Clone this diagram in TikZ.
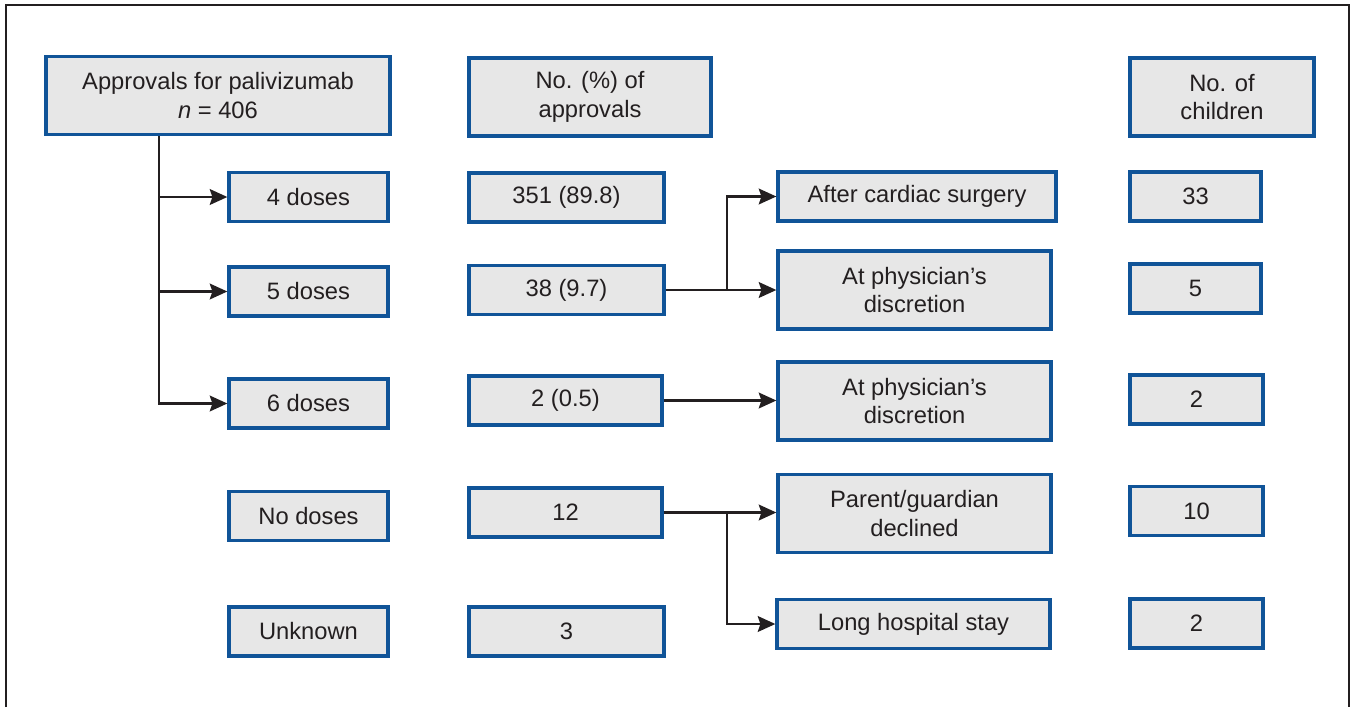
\documentclass[tikz,border=0pt]{standalone}
\usepackage{fontspec}
\setmainfont{Liberation Sans}
\usepackage{tikz}
\usepackage{xcolor}
\usetikzlibrary{calc,arrows.meta}
\definecolor{boxblue}{RGB}{16,84,152}
\definecolor{boxgray}{RGB}{231,231,231}
\definecolor{inkgray}{RGB}{35,31,32}

\begin{document}
\begin{tikzpicture}[auto]
    % Styles for boxes and lines
    \tikzset{
      box/.style={rectangle, draw=boxblue, fill=boxgray, line width=1.9pt, align=center, text=inkgray,
        font=\fontsize{13.5}{16.2}\selectfont, minimum height=0.98cm, inner sep=0pt},
      tallbox/.style={box, minimum height=1.56cm},
      line/.style={line width=1.2pt, draw=inkgray},
      arrow/.style={line, -{Stealth[length=10pt, width=9pt, inset=1.5pt]}}
    }
    \useasboundingbox (0,0) rectangle (27.06,-14.14);
    \draw[line width=1.2pt, draw=inkgray] (0.12,-14.14) -- (0.12,-0.1) -- (26.98,-0.1) -- (26.98,-14.14);

    % Nodes with explicit coordinates
    \node[tallbox, minimum width=6.88cm] (top) at (4.36,-1.91) {Approvals for palivizumab\\ \textit{n} = 406};
    \node[tallbox, minimum width=4.84cm] (hdrA) at (11.8,-1.94) {No. (\%) of\\ approvals};
    \node[tallbox, minimum width=3.68cm] (hdrC) at (24.44,-1.94) {No. of\\ children};

    \node[box, minimum width=3.18cm] (four) at (6.17,-3.94) {4 doses};
    \node[box, minimum width=3.18cm] (five) at (6.17,-5.83) {5 doses};
    \node[box, minimum width=3.18cm] (six) at (6.17,-8.07) {6 doses};
    \node[box, minimum width=3.18cm] (none) at (6.17,-10.32) {No doses};
    \node[box, minimum width=3.18cm] (unknown) at (6.17,-12.63) {Unknown};

    \node[box, minimum width=3.9cm] (c351) at (11.33,-3.95) {351 (89.8)};
    \node[box, minimum width=3.9cm] (c38) at (11.33,-5.8) {38 (9.7)};
    \node[box, minimum width=3.86cm] (c2) at (11.31,-8.01) {2 (0.5)};
    \node[box, minimum width=3.86cm] (c12) at (11.31,-10.25) {12};
    \node[box, minimum width=3.9cm] (c3) at (11.33,-12.63) {3};

    \node[box, minimum width=5.56cm] (cardiac) at (18.34,-3.93) {After cardiac surgery};
    \node[tallbox, minimum width=5.46cm] (discA) at (18.29,-5.8) {At physician’s\\ discretion};
    \node[tallbox, minimum width=5.46cm] (discB) at (18.29,-8.02) {At physician’s\\ discretion};
    \node[tallbox, minimum width=5.46cm] (parent) at (18.29,-10.27) {Parent/guardian\\ declined};
    \node[box, minimum width=5.46cm] (stay) at (18.27,-12.48) {Long hospital stay};

    \node[box, minimum width=2.62cm] (n33) at (23.91,-3.93) {33};
    \node[box, minimum width=2.62cm] (n5) at (23.91,-5.77) {5};
    \node[box, minimum width=2.66cm] (n2a) at (23.93,-7.99) {2};
    \node[box, minimum width=2.66cm] (n10) at (23.93,-10.22) {10};
    \node[box, minimum width=2.66cm] (n2b) at (23.93,-12.47) {2};

    % Arrows
    \draw[arrow] ([xshift=-1.18cm]top.south) |- (six.west);
    \draw[arrow] ([xshift=-1.18cm]top.south) |- (five.west);
    \draw[arrow] ([xshift=-1.18cm]top.south) |- (four.west);

    \draw[arrow] (c38.east) -- ++(1.22,0) |- (cardiac.west);
    \draw[arrow] (c38.east) -- (discA.west);
    \draw[arrow] (c2.east) -- (c2.east -| discB.west);
    \draw[arrow] (c12.east) -- (c12.east -| parent.west);
    \draw[arrow] (c12.east) -- ++(1.26,0) |- (stay.west);

\end{tikzpicture}
\end{document}
